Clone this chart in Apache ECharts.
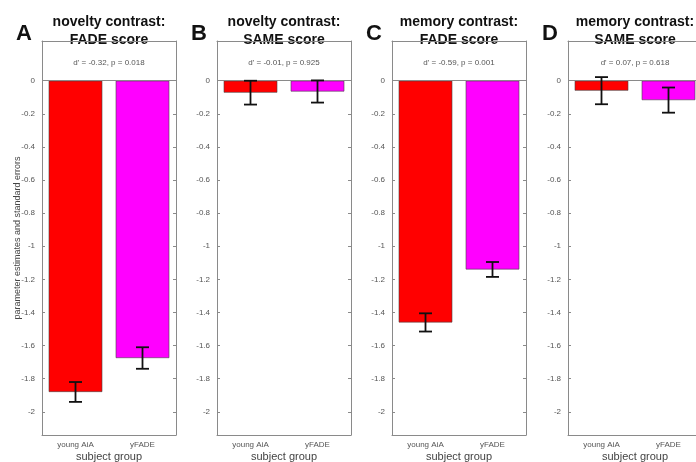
<!DOCTYPE html>
<html><head><meta charset="utf-8">
<script src="https://cdn.jsdelivr.net/npm/echarts@6/dist/echarts.min.js"></script>
<style>html,body{margin:0;padding:0;background:#fff}#c{width:696px;height:462px}</style>
</head><body><div id="c"></div>
<script>
// ---- data ----
const categories = ['young AiA', 'yFADE'];
const barColors = ['#ff0000', '#ff00ff'];
const yTicks = [0, -0.2, -0.4, -0.6, -0.8, -1, -1.2, -1.4, -1.6, -1.8, -2];
const panelLetters = ['A', 'B', 'C', 'D'];
const panelTitles = [['novelty contrast:', 'FADE score'], ['novelty contrast:', 'SAME score'], ['memory contrast:', 'FADE score'], ['memory contrast:', 'SAME score']];
const panelStats = ["d' = -0.32, p = 0.018", "d' = -0.01, p = 0.925", "d' = -0.59, p = 0.001", "d' = 0.07, p = 0.618"];
const noveltyFade = [-1.88, -1.675];
const noveltyFadeSE = [0.06, 0.065];
const noveltySame = [-0.072, -0.065];
const noveltySameSE = [0.072, 0.067];
const memoryFade = [-1.46, -1.14];
const memoryFadeSE = [0.055, 0.045];
const memorySame = [-0.06, -0.117];
const memorySameSE = [0.082, 0.076];
const xAxisName = 'subject group';
const yAxisName = 'parameter estimates and standard errors';

const means = [noveltyFade, noveltySame, memoryFade, memorySame];
const ses = [noveltyFadeSE, noveltySameSE, memoryFadeSE, memorySameSE];

// ---- layout ----
const gridLefts = [42, 217, 392, 568];
const gridW = 134, gridTop = 41, gridH = 394;
const yMin = -2.14, yMax = 0.24;
const font = 'Liberation Sans, Arial, sans-serif';
const axisGray = '#8a8a8a';
const labelGray = '#555';

const grids = [], xAxes = [], yAxes = [], series = [], graphics = [];
for (let i = 0; i < 4; i++) {
  grids.push({left: gridLefts[i], top: gridTop, width: gridW, height: gridH, outerBoundsMode: 'none', containLabel: false});
  // bottom x axis
  xAxes.push({
    type: 'category', gridIndex: i, data: categories, position: 'bottom',
    axisLine: {onZero: false, lineStyle: {color: axisGray}},
    axisTick: {inside: true, alignWithLabel: true, length: 3, lineStyle: {color: axisGray}},
    axisLabel: {fontFamily: font, fontSize: 8, color: labelGray, margin: 6},
    name: xAxisName, nameLocation: 'middle', nameGap: 16, nameMoveOverlap: false,
    nameTextStyle: {fontFamily: font, fontSize: 11, color: '#444'}
  });
  // top x axis (box)
  xAxes.push({
    type: 'category', gridIndex: i, data: categories, position: 'top',
    axisLine: {onZero: false, lineStyle: {color: axisGray}},
    axisTick: {inside: true, alignWithLabel: true, length: 3, lineStyle: {color: axisGray}},
    axisLabel: {show: false}
  });
  const yBase = {
    type: 'value', gridIndex: i, min: yMin, max: yMax,
    splitLine: {show: false},
    axisLine: {show: true, onZero: false, lineStyle: {color: axisGray}},
    axisTick: {show: true, inside: true, length: 3, customValues: yTicks, lineStyle: {color: axisGray}}
  };
  yAxes.push(Object.assign({}, yBase, {
    position: 'left',
    axisLabel: {customValues: yTicks, fontFamily: font, fontSize: 8, color: labelGray, margin: 7},
    name: i === 0 ? yAxisName : '', nameLocation: 'middle', nameGap: 20, nameMoveOverlap: false,
    nameTextStyle: {fontFamily: font, fontSize: 9, color: '#444'}
  }));
  yAxes.push(Object.assign({}, yBase, {position: 'right', axisLabel: {show: false}}));

  series.push({
    type: 'bar', xAxisIndex: 2 * i, yAxisIndex: 2 * i, barWidth: '80%',
    data: means[i].map((v, k) => ({value: v, itemStyle: {color: barColors[k]}})),
    itemStyle: {borderColor: '#444', borderWidth: 0.6},
    markLine: {silent: true, symbol: 'none', label: {show: false},
      lineStyle: {color: axisGray, width: 1, type: 'solid'}, data: [{yAxis: 0}]},
    z: 2
  });
  series.push({
    type: 'custom', xAxisIndex: 2 * i, yAxisIndex: 2 * i, z: 5,
    data: means[i].map((v, k) => [k, v, ses[i][k]]),
    renderItem: function (params, api) {
      const x = api.value(0), m = api.value(1), s = api.value(2);
      const hi = api.coord([x, m + s]), lo = api.coord([x, m - s]);
      const cw = 6.5;
      const st = {stroke: '#111', lineWidth: 1.8};
      return {type: 'group', children: [
        {type: 'line', shape: {x1: hi[0], y1: hi[1], x2: lo[0], y2: lo[1]}, style: st},
        {type: 'line', shape: {x1: hi[0] - cw, y1: hi[1], x2: hi[0] + cw, y2: hi[1]}, style: st},
        {type: 'line', shape: {x1: lo[0] - cw, y1: lo[1], x2: lo[0] + cw, y2: lo[1]}, style: st}
      ]};
    }
  });

  const cx = gridLefts[i] + gridW / 2;
  graphics.push({type: 'text', x: gridLefts[i] - 18, y: 34,
    style: {text: panelLetters[i], font: 'bold 22px ' + font, fill: '#111', align: 'center', verticalAlign: 'middle'}});
  graphics.push({type: 'text', x: cx, y: 22,
    style: {text: panelTitles[i][0], font: 'bold 14px ' + font, fill: '#111', align: 'center', verticalAlign: 'middle'}});
  graphics.push({type: 'text', x: cx, y: 40,
    style: {text: panelTitles[i][1], font: 'bold 14px ' + font, fill: '#111', align: 'center', verticalAlign: 'middle'}});
  graphics.push({type: 'text', x: cx, y: 63,
    style: {text: panelStats[i], font: '8px ' + font, fill: labelGray, align: 'center', verticalAlign: 'middle'}});
}

const chart = echarts.init(document.getElementById('c'));
chart.setOption({
  animation: false,
  backgroundColor: '#fff',
  grid: grids, xAxis: xAxes, yAxis: yAxes, series: series, graphic: graphics
});
</script></body></html>
